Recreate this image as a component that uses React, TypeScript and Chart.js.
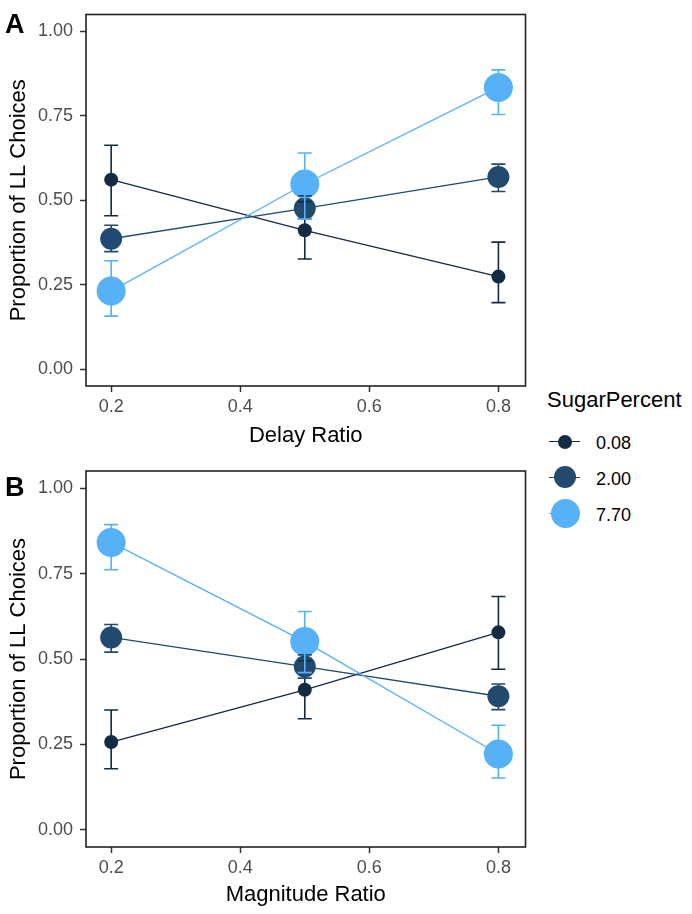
import React, { useEffect, useRef } from 'react';
import { Chart, registerables } from 'chart.js';

Chart.register(...registerables);

const FONT = '"Liberation Sans", Arial, Helvetica, sans-serif';
Chart.defaults.font.family = FONT;

// ---- data ----
const xLevels = [0.2, 0.5, 0.8];
const xTickValues = [0.2, 0.4, 0.6, 0.8];
const xTickLabels = ['0.2', '0.4', '0.6', '0.8'];
const yTickValues = [0, 0.25, 0.5, 0.75, 1.0];
const yTickLabels = ['0.00', '0.25', '0.50', '0.75', '1.00'];

const sugarLabels = ['0.08', '2.00', '7.70'];
const sugarColors = ['#132B43', '#22496E', '#56B1F7'];
const pointRadii = [7, 11, 14.5];

// Panel A: Delay Ratio
const delayMean008 = [0.561, 0.411, 0.274];
const delayLow008 = [0.454, 0.326, 0.197];
const delayHigh008 = [0.663, 0.496, 0.376];
const delayMean200 = [0.386, 0.476, 0.569];
const delayLow200 = [0.348, 0.445, 0.526];
const delayHigh200 = [0.426, 0.513, 0.607];
const delayMean770 = [0.231, 0.548, 0.834];
const delayLow770 = [0.157, 0.444, 0.754];
const delayHigh770 = [0.321, 0.640, 0.886];

// Panel B: Magnitude Ratio
const magMean008 = [0.257, 0.410, 0.578];
const magLow008 = [0.179, 0.325, 0.470];
const magHigh008 = [0.351, 0.495, 0.683];
const magMean200 = [0.563, 0.478, 0.391];
const magLow200 = [0.520, 0.444, 0.352];
const magHigh200 = [0.601, 0.512, 0.427];
const magMean770 = [0.841, 0.551, 0.222];
const magLow770 = [0.761, 0.460, 0.152];
const magHigh770 = [0.893, 0.639, 0.306];

const errorBarPlugin = {
  id: 'errorBars',
  afterDatasetsDraw(chart: any) {
    const ctx = chart.ctx;
    const xs = chart.scales.x;
    const ys = chart.scales.y;
    chart.data.datasets.forEach((ds: any) => {
      ctx.save();
      ctx.strokeStyle = ds.borderColor;
      ctx.lineWidth = 1.6;
      ds.data.forEach((p: any, j: number) => {
        const x = xs.getPixelForValue(p.x);
        const yl = ys.getPixelForValue(ds.errLow[j]);
        const yh = ys.getPixelForValue(ds.errHigh[j]);
        ctx.beginPath();
        ctx.moveTo(x, yl);
        ctx.lineTo(x, yh);
        ctx.moveTo(x - 7, yl);
        ctx.lineTo(x + 7, yl);
        ctx.moveTo(x - 7, yh);
        ctx.lineTo(x + 7, yh);
        ctx.stroke();
      });
      ctx.restore();
    });
  },
};

const boxPlugin = {
  id: 'panelBox',
  afterDraw(chart: any) {
    const { ctx, chartArea } = chart;
    ctx.save();
    ctx.strokeStyle = '#222222';
    ctx.lineWidth = 1.6;
    ctx.strokeRect(chartArea.left, chartArea.top, chartArea.right - chartArea.left, chartArea.bottom - chartArea.top);
    const tag = chart.options.plugins.panelBox.tag;
    const tagBaseline = chart.options.plugins.panelBox.tagBaseline;
    ctx.fillStyle = '#000';
    ctx.font = `bold 27px ${FONT}`;
    ctx.textBaseline = 'alphabetic';
    ctx.textAlign = 'left';
    ctx.fillText(tag, 5, tagBaseline);
    ctx.restore();
  },
};

type PanelProps = {
  top: number;
  height: number;
  areaTop: number;
  areaBottom: number;
  tag: string;
  tagBaseline: number;
  xTitle: string;
  means: number[][];
  lows: number[][];
  highs: number[][];
};

function Panel(props: PanelProps) {
  const ref = useRef<HTMLCanvasElement>(null);
  useEffect(() => {
    const { height, areaTop, areaBottom, tag, tagBaseline, xTitle, means, lows, highs } = props;
    const datasets = sugarLabels.map((lab, i) => ({
      label: lab,
      data: xLevels.map((x, j) => ({ x, y: means[i][j] })),
      errLow: lows[i],
      errHigh: highs[i],
      showLine: true,
      borderColor: sugarColors[i],
      backgroundColor: sugarColors[i],
      pointBackgroundColor: sugarColors[i],
      pointBorderWidth: 0,
      pointRadius: pointRadii[i],
      pointHoverRadius: pointRadii[i],
      borderWidth: 1.3,
      order: 2 - i,
      clip: false as any,
    }));
    const chart = new Chart(ref.current as HTMLCanvasElement, {
      type: 'scatter',
      data: { datasets: datasets as any },
      plugins: [errorBarPlugin, boxPlugin],
      options: {
        animation: false,
        responsive: false,
        events: [],
        layout: { padding: { top: areaTop, right: 14, left: 0, bottom: 0 } },
        plugins: {
          legend: { display: false },
          tooltip: { enabled: false },
          panelBox: { tag, tagBaseline },
        } as any,
        scales: {
          x: {
            type: 'linear',
            min: 0.161,
            max: 0.842,
            afterBuildTicks: (s: any) => {
              s.ticks = xTickValues.map((v) => ({ value: v }));
            },
            afterFit: (s: any) => {
              s.height = height - areaBottom;
              s.paddingLeft = 0;
              s.paddingRight = 0;
            },
            grid: {
              display: true,
              drawOnChartArea: false,
              drawTicks: true,
              tickLength: 6,
              tickWidth: 1.5,
              tickColor: '#333333',
              color: '#333333',
            },
            border: { display: false },
            ticks: {
              padding: 4,
              maxRotation: 0,
              autoSkip: false,
              color: '#4D4D4D',
              font: { size: 18 },
              callback: (_v: any, i: number) => xTickLabels[i],
            },
            title: {
              display: true,
              text: xTitle,
              color: '#000000',
              font: { size: 22 },
              padding: { top: 0, bottom: 6 },
            },
          },
          y: {
            type: 'linear',
            min: -0.05,
            max: 1.05,
            afterBuildTicks: (s: any) => {
              s.ticks = yTickValues.map((v) => ({ value: v }));
            },
            afterFit: (s: any) => {
              s.width = 86;
              s.paddingTop = 0;
              s.paddingBottom = 0;
            },
            grid: {
              display: true,
              drawOnChartArea: false,
              drawTicks: true,
              tickLength: 6,
              tickWidth: 1.5,
              tickColor: '#333333',
              color: '#333333',
            },
            border: { display: false },
            ticks: {
              padding: 7,
              autoSkip: false,
              color: '#4D4D4D',
              font: { size: 18 },
              callback: (_v: any, i: number) => yTickLabels[i],
            },
            title: {
              display: true,
              text: 'Proportion of LL Choices',
              color: '#000000',
              font: { size: 22 },
              padding: { top: 6, bottom: 0 },
            },
          },
        },
      } as any,
    });
    return () => chart.destroy();
  }, []);
  return (
    <canvas
      ref={ref}
      width={540}
      height={props.height}
      style={{ position: 'absolute', left: 0, top: props.top, width: 540, height: props.height }}
    />
  );
}

function Legend() {
  const keyCenters = [441.7, 477.3, 513.3];
  const labelTops = [434, 469.8, 505.5];
  return (
    <>
      <div
        style={{
          position: 'absolute',
          left: 547,
          top: 388.7,
          fontFamily: FONT,
          fontSize: 22,
          lineHeight: '22px',
          color: '#000',
          whiteSpace: 'nowrap',
        }}
      >
        SugarPercent
      </div>
      {sugarLabels.map((lab, i) => (
        <React.Fragment key={lab}>
          <div
            style={{
              position: 'absolute',
              left: 549,
              top: keyCenters[i] - 0.75,
              width: 31,
              height: 1.5,
              background: sugarColors[i],
            }}
          />
          <div
            style={{
              position: 'absolute',
              left: 565 - pointRadii[i],
              top: keyCenters[i] - pointRadii[i],
              width: pointRadii[i] * 2,
              height: pointRadii[i] * 2,
              borderRadius: '50%',
              background: sugarColors[i],
            }}
          />
          <div
            style={{
              position: 'absolute',
              left: 596,
              top: labelTops[i],
              fontFamily: FONT,
              fontSize: 18,
              lineHeight: '18px',
              color: '#000',
              whiteSpace: 'nowrap',
            }}
          >
            {lab}
          </div>
        </React.Fragment>
      ))}
    </>
  );
}

export default function App() {
  return (
    <div style={{ position: 'absolute', left: 0, top: 0, width: 692, height: 914, background: '#fff' }}>
      <Panel
        top={0}
        height={455}
        areaTop={10}
        areaBottom={386}
        tag="A"
        tagBaseline={33}
        xTitle="Delay Ratio"
        means={[delayMean008, delayMean200, delayMean770]}
        lows={[delayLow008, delayLow200, delayLow770]}
        highs={[delayHigh008, delayHigh200, delayHigh770]}
      />
      <Panel
        top={455}
        height={459}
        areaTop={16}
        areaBottom={392}
        tag="B"
        tagBaseline={40.7}
        xTitle="Magnitude Ratio"
        means={[magMean008, magMean200, magMean770]}
        lows={[magLow008, magLow200, magLow770]}
        highs={[magHigh008, magHigh200, magHigh770]}
      />
      <Legend />
    </div>
  );
}
